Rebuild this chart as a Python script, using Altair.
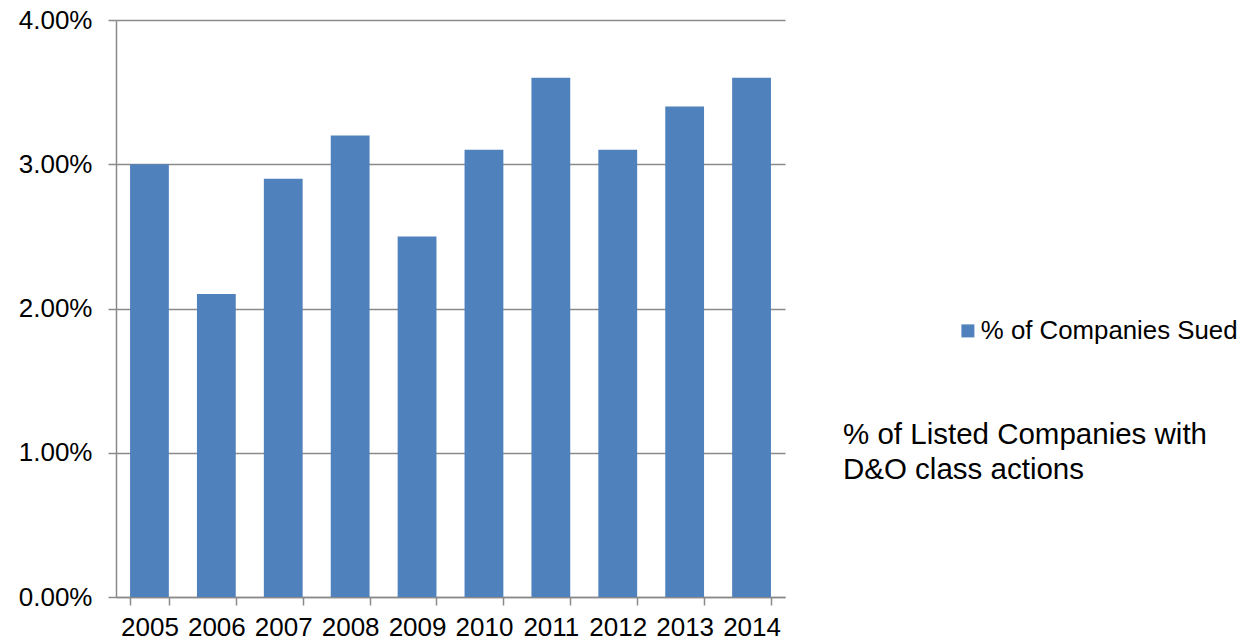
import altair as alt
import pandas as pd

years = ["2005", "2006", "2007", "2008", "2009", "2010", "2011", "2012", "2013", "2014"]
pct_sued = [0.030, 0.021, 0.029, 0.032, 0.025, 0.031, 0.036, 0.031, 0.034, 0.036]
series_name = ["% of Companies Sued"]
note_lines = ["% of Listed Companies with", "D&O class actions"]

df = pd.DataFrame({"year": years, "value": pct_sued, "series": series_name * len(years)})

FONT = "Liberation Sans"
GRID = "#8a8a8a"
FS = 26

bars = alt.Chart(df).mark_bar(color="#4F81BD").encode(
    x=alt.X("year:N", sort=years,
            scale=alt.Scale(paddingInner=0.42, paddingOuter=0.21),
            axis=alt.Axis(title=None, labelAngle=0, labelFontSize=FS, labelFont=FONT,
                          labelColor="#000000", domainColor=GRID, tickColor=GRID,
                          tickSize=8, tickBand="extent", labelPadding=9,
                          domainWidth=1.5, tickWidth=1.5)),
    y=alt.Y("value:Q", scale=alt.Scale(domain=[0, 0.04], nice=False),
            axis=alt.Axis(title=None, format=".2%", values=[0, 0.01, 0.02, 0.03, 0.04],
                          labelFontSize=FS, labelFont=FONT, labelColor="#000000",
                          gridColor=GRID, gridWidth=1.5, domainColor=GRID, domainWidth=1.5,
                          tickColor=GRID, tickSize=8, tickWidth=1.5, labelPadding=16)),
    color=alt.Color("series:N", scale=alt.Scale(range=["#4F81BD"]),
                    legend=alt.Legend(title=None, orient="none", legendX=839, legendY=298,
                                      symbolType="square", symbolSize=169,
                                      labelFontSize=25.8, labelFont=FONT, labelColor="#000000",
                                      symbolStrokeWidth=0, labelOffset=0, labelLimit=0)),
)

note_df = pd.DataFrame({"text": [note_lines]})
note = alt.Chart(note_df).mark_text(align="left", baseline="alphabetic", fontSize=29.5, font=FONT,
                                     color="#000000", lineHeight=35).encode(
    text="text:N",
    x=alt.value(727),
    y=alt.value(424),
)

chart = alt.layer(bars, note).properties(
    width=669, height=577,
    autosize=alt.AutoSizeParams(type="none"),
    padding={"left": 116, "top": 20, "right": 463, "bottom": 46},
).configure_view(stroke=None)

chart.save("out.html", embed_options={"renderer": "svg", "actions": False})
